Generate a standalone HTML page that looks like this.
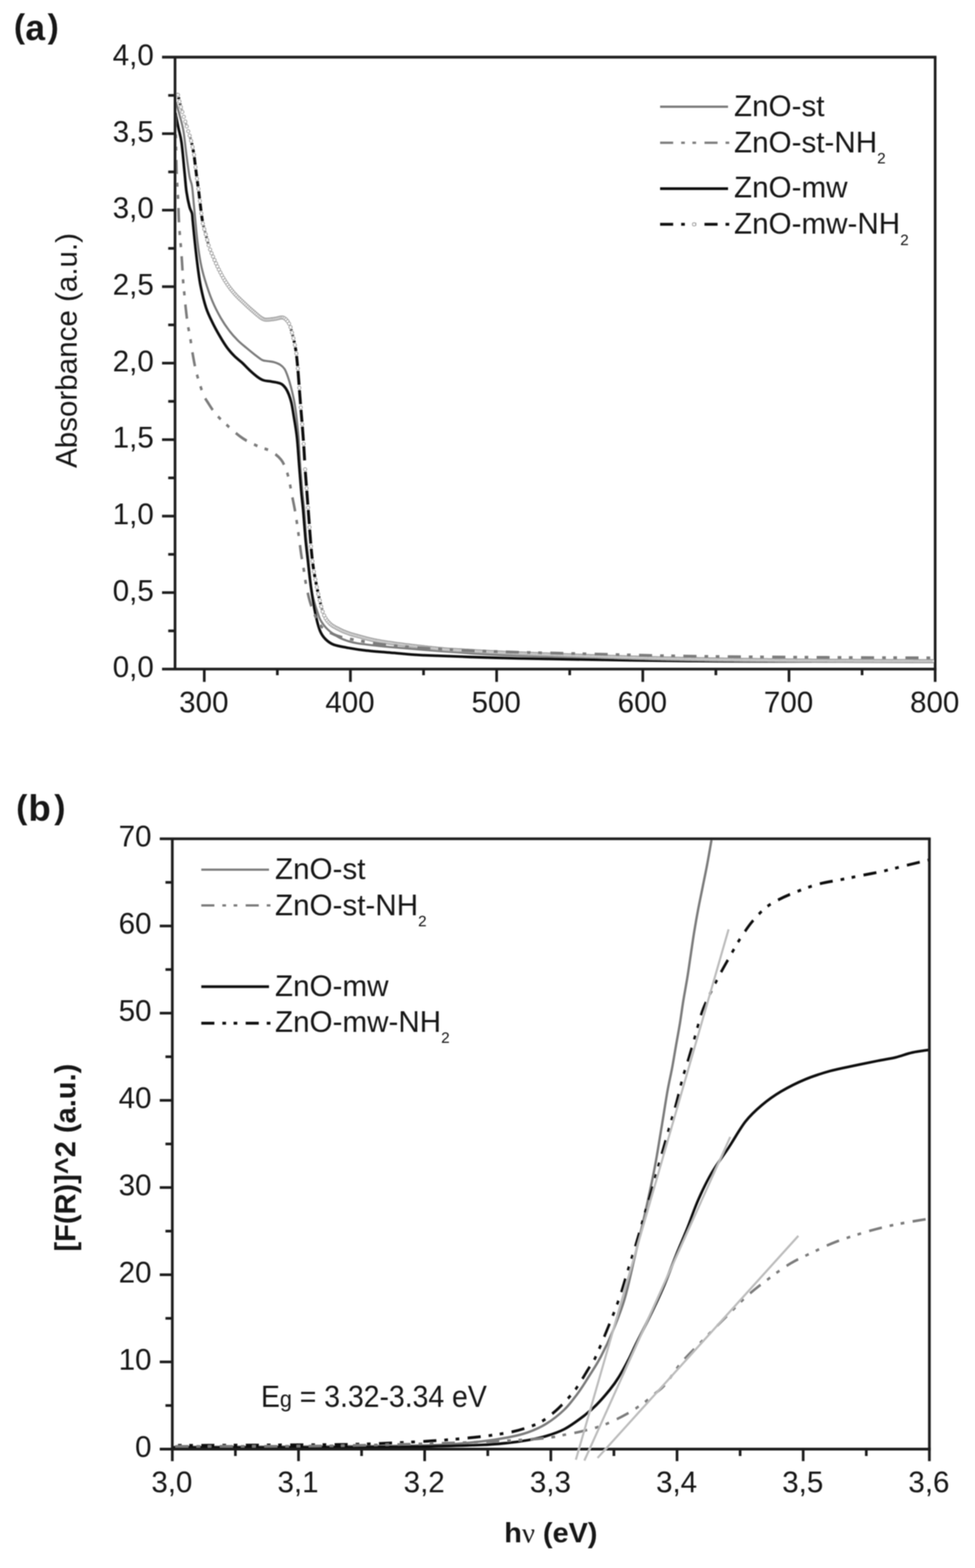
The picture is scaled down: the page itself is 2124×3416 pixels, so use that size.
<!DOCTYPE html>
<html lang="en"><head><meta charset="utf-8"><title>UV-Vis absorbance and Kubelka-Munk plots of ZnO samples</title>
<style>
html,body{margin:0;padding:0;background:#fff;}
body{width:2124px;height:3416px;overflow:hidden;}
svg{display:block;}
text{font-family:"Liberation Sans",sans-serif;fill:#141414;}
.tk{font-size:64.4px;}
.lg{font-size:64.5px;}
.sub{font-size:33.5px;}
.b{font-weight:bold;}
.ax{stroke:#1c1c1c;fill:none;}
</style></head><body>
<svg width="2124" height="3416" viewBox="0 0 2124 3416">
<rect width="2124" height="3416" fill="#fff"/>
<defs><filter id="bl" x="-2%" y="-2%" width="104%" height="104%"><feGaussianBlur stdDeviation="1.15"/></filter></defs>
<g filter="url(#bl)">
<g id="chart-a">
<text class="b" x="30.2" y="81.5" font-size="73" fill="#0a0a0a"><tspan>(</tspan><tspan font-size="77" dx="0.8" dy="5.5">a</tspan><tspan font-size="73" dx="5.6" dy="-5.5">)</tspan></text>
<clipPath id="ca"><rect x="381.3" y="124.5" width="1659.9" height="1333.2"/></clipPath>
<g clip-path="url(#ca)" fill="none" stroke-linecap="butt" stroke-linejoin="round">
<path d="M383.0 222.0C384.3 226.7 388.2 239.4 391.0 250.0C393.8 260.6 397.1 271.0 399.7 285.8C402.2 300.6 404.1 322.2 406.3 338.7C408.5 355.2 410.9 373.9 412.9 385.0C414.9 396.1 416.6 395.1 418.2 405.0C419.8 414.9 421.0 432.0 422.2 444.5C423.4 457.0 424.3 466.4 425.6 480.0C426.9 493.6 428.3 510.9 430.2 526.3C432.1 541.7 434.4 558.7 437.1 572.6C439.8 586.5 442.1 595.7 446.4 609.6C450.6 623.5 456.8 642.0 462.6 655.9C468.4 669.8 474.9 682.2 481.1 693.0C487.3 703.8 493.4 712.6 499.6 720.7C505.8 728.8 511.9 735.4 518.1 741.6C524.3 747.8 530.5 752.6 536.7 757.8C542.9 763.0 549.4 768.4 555.2 772.8C561.0 777.2 566.8 782.1 571.4 784.4C576.0 786.7 578.8 785.9 583.0 786.7C587.2 787.5 592.3 787.6 596.9 789.0C601.5 790.4 606.9 792.3 610.7 794.8C614.6 797.3 617.3 799.9 620.0 804.1C622.7 808.4 624.6 813.8 626.9 820.3C629.2 826.8 631.6 834.5 633.9 843.4C636.2 852.3 638.8 863.0 640.8 873.5C642.8 884.0 644.1 893.1 645.7 906.3C647.3 919.5 648.9 935.2 650.3 952.6C651.6 970.0 652.4 991.2 653.8 1010.5C655.1 1029.8 656.9 1051.0 658.4 1068.3C659.9 1085.6 661.6 1097.2 663.0 1114.6C664.4 1132.0 665.5 1155.1 667.0 1172.5C668.5 1189.9 669.9 1199.3 672.0 1218.8C674.1 1238.3 675.9 1269.4 679.5 1289.4C683.1 1309.4 689.4 1327.4 693.4 1339.0C697.4 1350.6 699.0 1352.8 703.3 1359.0C707.6 1365.2 713.2 1371.0 719.2 1376.0C725.2 1381.0 732.3 1385.5 739.0 1389.0C745.7 1392.5 752.8 1394.9 759.4 1397.0C766.0 1399.1 768.8 1399.9 778.7 1401.5C788.6 1403.1 805.4 1405.0 818.9 1406.5C832.4 1408.0 843.1 1409.0 860.0 1410.5C876.9 1412.0 896.7 1413.7 920.0 1415.5C943.3 1417.3 978.3 1419.9 1000.0 1421.5C1021.7 1423.1 1033.3 1424.0 1050.0 1425.0C1066.7 1426.0 1075.0 1426.5 1100.0 1427.5C1125.0 1428.5 1158.3 1429.7 1200.0 1431.0C1241.7 1432.3 1300.0 1434.2 1350.0 1435.5C1400.0 1436.8 1441.7 1438.1 1500.0 1439.0C1558.3 1439.9 1610.5 1440.5 1700.0 1441.0C1789.5 1441.5 1980.8 1441.8 2037.0 1442.0" stroke="#7c7c7c" stroke-width="4.6"/>
<path d="M382.0 246.0C383.2 251.7 386.7 269.0 389.0 280.0C391.3 291.0 393.5 295.6 395.7 312.0C397.9 328.4 400.5 360.7 402.3 378.4C404.1 396.1 404.5 405.9 406.3 418.0C408.1 430.1 410.9 443.3 412.9 451.0C414.9 458.7 417.0 459.6 418.2 464.4C419.4 469.2 418.8 469.7 419.8 480.0C420.8 490.3 422.7 510.1 424.4 526.3C426.1 542.5 428.1 561.0 430.2 577.2C432.3 593.4 434.0 608.1 437.1 623.5C440.2 638.9 444.4 656.7 448.7 669.8C452.9 682.9 457.6 691.8 462.6 702.2C467.6 712.6 473.4 723.0 478.8 732.3C484.2 741.6 489.6 750.5 495.0 757.8C500.4 765.1 505.8 770.9 511.2 776.3C516.6 781.7 522.0 785.2 527.4 790.2C532.8 795.2 538.2 801.4 543.6 806.4C549.0 811.4 554.8 816.6 559.8 820.3C564.8 824.0 569.1 826.7 573.7 828.4C578.3 830.1 583.0 829.9 587.6 830.7C592.2 831.5 597.3 832.0 601.5 833.0C605.7 834.0 609.5 834.4 613.0 836.5C616.5 838.6 619.6 841.9 622.3 845.7C625.0 849.6 627.2 854.2 629.3 859.6C631.4 865.0 633.2 870.3 635.0 878.1C636.8 885.9 637.9 893.9 639.9 906.3C641.9 918.7 645.0 935.2 646.9 952.6C648.8 970.0 650.0 991.2 651.5 1010.5C653.0 1029.8 654.6 1051.0 656.1 1068.3C657.6 1085.6 659.2 1097.2 660.7 1114.6C662.2 1132.0 663.8 1154.9 665.4 1172.5C667.0 1190.1 668.6 1202.2 670.6 1220.0C672.6 1237.8 674.7 1259.7 677.5 1279.5C680.3 1299.3 684.2 1323.1 687.5 1339.0C690.8 1354.9 693.8 1365.9 697.4 1374.8C701.0 1383.7 704.3 1387.6 709.3 1392.6C714.2 1397.5 718.8 1401.3 727.1 1404.5C735.4 1407.7 747.0 1409.3 758.9 1411.5C770.8 1413.7 782.1 1415.6 798.6 1417.4C815.1 1419.2 837.9 1420.8 858.1 1422.4C878.3 1424.1 883.0 1425.5 920.0 1427.3C957.0 1429.1 1026.7 1431.5 1080.0 1433.0C1133.3 1434.5 1170.0 1435.2 1240.0 1436.4C1310.0 1437.6 1423.3 1439.2 1500.0 1440.0C1576.7 1440.8 1610.5 1440.8 1700.0 1441.0C1789.5 1441.2 1980.8 1441.4 2037.0 1441.5" stroke="#111" stroke-width="5.8"/>
<path d="M388.8 211.7 L389.8 216.1M392.1 225.8 L392.8 228.5M395.5 238.1 L395.8 239.2M405.0 269.6 L405.3 270.6M414.5 300.3 L415.0 301.9M417.5 311.6 L418.4 315.4M420.4 325.2 L421.8 332.4M423.3 342.2 L425.3 359.1M426.5 369.1 L428.4 384.3M429.8 394.2 L431.5 406.5M432.9 416.5 L434.8 432.9M436.0 442.8 L438.0 459.7M439.3 469.7 L441.1 482.1M443.1 491.9 L443.7 494.3M446.3 504.0 L446.8 505.7M449.4 515.3 L450.1 517.9M452.7 527.6 L453.2 529.7M634.1 717.6 L634.8 720.0M637.3 729.7 L638.0 732.2M640.3 741.9 L641.4 746.7M643.3 756.5 L644.8 765.3M646.1 775.2 L648.3 797.7M649.2 807.7 L651.5 838.6M652.3 849.7 L654.7 880.6M655.6 892.4 L657.9 919.3M658.7 929.3 L661.0 960.2M661.8 972.0 L663.6 1003.0M665.1 1027.5 L667.5 1058.4M668.3 1068.7 L670.6 1099.6M671.5 1110.8 L673.8 1141.7M674.6 1153.5 L677.0 1184.4M677.9 1195.2 L680.1 1217.5M681.3 1227.5 L683.1 1240.2M684.7 1250.1 L686.1 1257.5M688.0 1267.3 L689.2 1274.0M691.2 1283.8 L692.4 1289.3M694.5 1299.1 L695.4 1303.0M697.7 1312.8 L698.6 1316.3M701.1 1326.0 L701.6 1327.7" stroke="#111" stroke-width="6.4"/>
<g stroke="#a2a2a2" stroke-width="2.0" fill="#fff">
<circle cx="384.5" cy="206.1" r="3.5"/>
<circle cx="387.7" cy="206.8" r="3.5"/>
<circle cx="390.9" cy="221.0" r="3.5"/>
<circle cx="394.0" cy="233.3" r="3.5"/>
<circle cx="397.2" cy="244.0" r="3.5"/>
<circle cx="400.4" cy="254.4" r="3.5"/>
<circle cx="403.6" cy="264.8" r="3.5"/>
<circle cx="406.8" cy="275.4" r="3.5"/>
<circle cx="410.0" cy="285.9" r="3.5"/>
<circle cx="413.1" cy="295.5" r="3.5"/>
<circle cx="416.3" cy="306.7" r="3.5"/>
<circle cx="419.5" cy="320.2" r="3.5"/>
<circle cx="422.7" cy="337.3" r="3.5"/>
<circle cx="425.9" cy="364.1" r="3.5"/>
<circle cx="429.1" cy="389.3" r="3.5"/>
<circle cx="432.3" cy="411.5" r="3.5"/>
<circle cx="435.4" cy="437.8" r="3.5"/>
<circle cx="438.6" cy="464.7" r="3.5"/>
<circle cx="441.8" cy="487.0" r="3.5"/>
<circle cx="445.0" cy="499.2" r="3.5"/>
<circle cx="448.2" cy="510.5" r="3.5"/>
<circle cx="451.4" cy="522.8" r="3.5"/>
<circle cx="454.5" cy="534.6" r="3.5"/>
<circle cx="457.7" cy="543.8" r="3.5"/>
<circle cx="460.9" cy="551.7" r="3.5"/>
<circle cx="464.1" cy="559.1" r="3.5"/>
<circle cx="467.3" cy="566.5" r="3.5"/>
<circle cx="470.5" cy="573.7" r="3.5"/>
<circle cx="473.6" cy="580.6" r="3.5"/>
<circle cx="476.8" cy="587.2" r="3.5"/>
<circle cx="480.0" cy="593.5" r="3.5"/>
<circle cx="483.2" cy="599.6" r="3.5"/>
<circle cx="486.4" cy="605.4" r="3.5"/>
<circle cx="489.6" cy="610.7" r="3.5"/>
<circle cx="492.8" cy="615.6" r="3.5"/>
<circle cx="495.9" cy="620.4" r="3.5"/>
<circle cx="499.1" cy="624.9" r="3.5"/>
<circle cx="502.3" cy="629.2" r="3.5"/>
<circle cx="505.5" cy="633.3" r="3.5"/>
<circle cx="508.7" cy="637.1" r="3.5"/>
<circle cx="511.9" cy="640.7" r="3.5"/>
<circle cx="515.0" cy="644.1" r="3.5"/>
<circle cx="518.2" cy="647.4" r="3.5"/>
<circle cx="521.4" cy="650.5" r="3.5"/>
<circle cx="524.6" cy="653.6" r="3.5"/>
<circle cx="527.8" cy="656.6" r="3.5"/>
<circle cx="531.0" cy="659.6" r="3.5"/>
<circle cx="534.2" cy="662.6" r="3.5"/>
<circle cx="537.3" cy="665.6" r="3.5"/>
<circle cx="540.5" cy="668.5" r="3.5"/>
<circle cx="543.7" cy="671.4" r="3.5"/>
<circle cx="546.9" cy="674.2" r="3.5"/>
<circle cx="550.1" cy="677.0" r="3.5"/>
<circle cx="553.3" cy="679.7" r="3.5"/>
<circle cx="556.4" cy="682.5" r="3.5"/>
<circle cx="559.6" cy="685.2" r="3.5"/>
<circle cx="562.8" cy="687.9" r="3.5"/>
<circle cx="566.0" cy="690.5" r="3.5"/>
<circle cx="569.2" cy="692.8" r="3.5"/>
<circle cx="572.4" cy="694.6" r="3.5"/>
<circle cx="575.5" cy="695.9" r="3.5"/>
<circle cx="578.7" cy="696.4" r="3.5"/>
<circle cx="581.9" cy="696.4" r="3.5"/>
<circle cx="585.1" cy="696.3" r="3.5"/>
<circle cx="588.3" cy="696.0" r="3.5"/>
<circle cx="591.5" cy="695.6" r="3.5"/>
<circle cx="594.7" cy="695.2" r="3.5"/>
<circle cx="597.8" cy="694.7" r="3.5"/>
<circle cx="601.0" cy="694.2" r="3.5"/>
<circle cx="604.2" cy="693.6" r="3.5"/>
<circle cx="607.4" cy="692.8" r="3.5"/>
<circle cx="610.6" cy="692.1" r="3.5"/>
<circle cx="613.8" cy="691.7" r="3.5"/>
<circle cx="616.9" cy="692.1" r="3.5"/>
<circle cx="620.1" cy="693.6" r="3.5"/>
<circle cx="623.3" cy="696.3" r="3.5"/>
<circle cx="626.5" cy="699.9" r="3.5"/>
<circle cx="629.7" cy="705.1" r="3.5"/>
<circle cx="632.9" cy="712.7" r="3.5"/>
<circle cx="636.1" cy="724.8" r="3.5"/>
<circle cx="639.2" cy="737.0" r="3.5"/>
<circle cx="642.4" cy="751.6" r="3.5"/>
<circle cx="645.6" cy="770.2" r="3.5"/>
<circle cx="648.8" cy="802.7" r="3.5"/>
<circle cx="652.0" cy="844.7" r="3.5"/>
<circle cx="655.2" cy="887.4" r="3.5"/>
<circle cx="658.3" cy="924.3" r="3.5"/>
<circle cx="661.5" cy="967.1" r="3.5"/>
<circle cx="664.7" cy="1022.5" r="3.5"/>
<circle cx="667.9" cy="1063.7" r="3.5"/>
<circle cx="671.1" cy="1105.8" r="3.5"/>
<circle cx="674.3" cy="1148.5" r="3.5"/>
<circle cx="677.5" cy="1190.3" r="3.5"/>
<circle cx="680.6" cy="1222.5" r="3.5"/>
<circle cx="683.8" cy="1245.2" r="3.5"/>
<circle cx="687.0" cy="1262.4" r="3.5"/>
<circle cx="690.2" cy="1278.9" r="3.5"/>
<circle cx="693.4" cy="1294.2" r="3.5"/>
<circle cx="696.6" cy="1307.9" r="3.5"/>
<circle cx="699.7" cy="1321.2" r="3.5"/>
<circle cx="702.9" cy="1332.5" r="3.5"/>
<circle cx="706.1" cy="1340.8" r="3.5"/>
<circle cx="709.3" cy="1347.0" r="3.5"/>
<circle cx="712.5" cy="1351.7" r="3.5"/>
<circle cx="715.7" cy="1355.4" r="3.5"/>
<circle cx="718.8" cy="1358.7" r="3.5"/>
<circle cx="722.0" cy="1361.4" r="3.5"/>
<circle cx="725.2" cy="1363.7" r="3.5"/>
<circle cx="728.4" cy="1365.6" r="3.5"/>
<circle cx="731.6" cy="1367.4" r="3.5"/>
<circle cx="734.8" cy="1369.0" r="3.5"/>
<circle cx="738.0" cy="1370.6" r="3.5"/>
<circle cx="741.1" cy="1372.2" r="3.5"/>
<circle cx="744.3" cy="1373.8" r="3.5"/>
<circle cx="747.5" cy="1375.2" r="3.5"/>
<circle cx="750.7" cy="1376.5" r="3.5"/>
<circle cx="753.9" cy="1377.8" r="3.5"/>
<circle cx="757.1" cy="1378.9" r="3.5"/>
<circle cx="760.2" cy="1380.1" r="3.5"/>
<circle cx="763.4" cy="1381.2" r="3.5"/>
<circle cx="766.6" cy="1382.2" r="3.5"/>
<circle cx="769.8" cy="1383.1" r="3.5"/>
<circle cx="773.0" cy="1384.0" r="3.5"/>
<circle cx="776.2" cy="1384.8" r="3.5"/>
<circle cx="779.4" cy="1385.7" r="3.5"/>
<circle cx="782.5" cy="1386.5" r="3.5"/>
<circle cx="785.7" cy="1387.4" r="3.5"/>
<circle cx="788.9" cy="1388.3" r="3.5"/>
<circle cx="792.1" cy="1389.2" r="3.5"/>
<circle cx="795.3" cy="1390.1" r="3.5"/>
<circle cx="798.5" cy="1390.9" r="3.5"/>
<circle cx="801.6" cy="1391.7" r="3.5"/>
<circle cx="804.8" cy="1392.5" r="3.5"/>
<circle cx="808.0" cy="1393.3" r="3.5"/>
<circle cx="811.2" cy="1394.0" r="3.5"/>
<circle cx="814.4" cy="1394.7" r="3.5"/>
<circle cx="817.6" cy="1395.3" r="3.5"/>
<circle cx="820.8" cy="1396.0" r="3.5"/>
<circle cx="823.9" cy="1396.5" r="3.5"/>
<circle cx="827.1" cy="1397.1" r="3.5"/>
<circle cx="830.3" cy="1397.7" r="3.5"/>
<circle cx="833.5" cy="1398.2" r="3.5"/>
<circle cx="836.7" cy="1398.7" r="3.5"/>
<circle cx="839.9" cy="1399.2" r="3.5"/>
<circle cx="843.0" cy="1399.7" r="3.5"/>
<circle cx="846.2" cy="1400.2" r="3.5"/>
<circle cx="849.4" cy="1400.6" r="3.5"/>
<circle cx="852.6" cy="1401.1" r="3.5"/>
<circle cx="855.8" cy="1401.6" r="3.5"/>
<circle cx="859.0" cy="1402.0" r="3.5"/>
<circle cx="862.1" cy="1402.4" r="3.5"/>
<circle cx="865.3" cy="1402.9" r="3.5"/>
<circle cx="868.5" cy="1403.3" r="3.5"/>
<circle cx="871.7" cy="1403.7" r="3.5"/>
<circle cx="874.9" cy="1404.1" r="3.5"/>
<circle cx="878.1" cy="1404.6" r="3.5"/>
<circle cx="881.3" cy="1405.0" r="3.5"/>
<circle cx="884.4" cy="1405.4" r="3.5"/>
<circle cx="887.6" cy="1405.8" r="3.5"/>
<circle cx="890.8" cy="1406.1" r="3.5"/>
<circle cx="894.0" cy="1406.5" r="3.5"/>
<circle cx="897.2" cy="1406.9" r="3.5"/>
<circle cx="900.4" cy="1407.3" r="3.5"/>
<circle cx="903.5" cy="1407.7" r="3.5"/>
<circle cx="906.7" cy="1408.0" r="3.5"/>
<circle cx="909.9" cy="1408.4" r="3.5"/>
<circle cx="913.1" cy="1408.7" r="3.5"/>
<circle cx="916.3" cy="1409.1" r="3.5"/>
<circle cx="919.5" cy="1409.5" r="3.5"/>
<circle cx="922.7" cy="1409.8" r="3.5"/>
<circle cx="925.8" cy="1410.2" r="3.5"/>
<circle cx="929.0" cy="1410.5" r="3.5"/>
<circle cx="932.2" cy="1410.9" r="3.5"/>
<circle cx="935.4" cy="1411.2" r="3.5"/>
<circle cx="938.6" cy="1411.5" r="3.5"/>
<circle cx="941.8" cy="1411.9" r="3.5"/>
<circle cx="944.9" cy="1412.2" r="3.5"/>
<circle cx="948.1" cy="1412.5" r="3.5"/>
<circle cx="951.3" cy="1412.9" r="3.5"/>
<circle cx="954.5" cy="1413.2" r="3.5"/>
<circle cx="957.7" cy="1413.5" r="3.5"/>
<circle cx="960.9" cy="1413.8" r="3.5"/>
<circle cx="964.0" cy="1414.1" r="3.5"/>
<circle cx="967.2" cy="1414.4" r="3.5"/>
<circle cx="970.4" cy="1414.7" r="3.5"/>
<circle cx="973.6" cy="1414.9" r="3.5"/>
<circle cx="976.8" cy="1415.2" r="3.5"/>
<circle cx="980.0" cy="1415.4" r="3.5"/>
<circle cx="983.2" cy="1415.5" r="3.5"/>
<circle cx="986.3" cy="1415.7" r="3.5"/>
<circle cx="989.5" cy="1415.9" r="3.5"/>
<circle cx="992.7" cy="1416.1" r="3.5"/>
<circle cx="995.9" cy="1416.3" r="3.5"/>
<circle cx="999.1" cy="1416.4" r="3.5"/>
<circle cx="1002.3" cy="1416.6" r="3.5"/>
<circle cx="1005.4" cy="1416.8" r="3.5"/>
<circle cx="1008.6" cy="1417.0" r="3.5"/>
<circle cx="1011.8" cy="1417.2" r="3.5"/>
<circle cx="1015.0" cy="1417.4" r="3.5"/>
<circle cx="1018.2" cy="1417.6" r="3.5"/>
<circle cx="1021.4" cy="1417.8" r="3.5"/>
<circle cx="1024.6" cy="1417.9" r="3.5"/>
<circle cx="1027.7" cy="1418.1" r="3.5"/>
<circle cx="1030.9" cy="1418.3" r="3.5"/>
<circle cx="1034.1" cy="1418.5" r="3.5"/>
<circle cx="1037.3" cy="1418.7" r="3.5"/>
<circle cx="1040.5" cy="1418.9" r="3.5"/>
<circle cx="1043.7" cy="1419.0" r="3.5"/>
<circle cx="1046.8" cy="1419.2" r="3.5"/>
<circle cx="1050.0" cy="1419.4" r="3.5"/>
<circle cx="1053.2" cy="1419.6" r="3.5"/>
<circle cx="1056.4" cy="1419.7" r="3.5"/>
<circle cx="1059.6" cy="1419.9" r="3.5"/>
<circle cx="1062.8" cy="1420.1" r="3.5"/>
<circle cx="1066.0" cy="1420.3" r="3.5"/>
<circle cx="1069.1" cy="1420.4" r="3.5"/>
<circle cx="1072.3" cy="1420.6" r="3.5"/>
<circle cx="1075.5" cy="1420.8" r="3.5"/>
<circle cx="1078.7" cy="1420.9" r="3.5"/>
<circle cx="1081.9" cy="1421.1" r="3.5"/>
<circle cx="1085.1" cy="1421.3" r="3.5"/>
<circle cx="1088.2" cy="1421.4" r="3.5"/>
<circle cx="1091.4" cy="1421.6" r="3.5"/>
<circle cx="1094.6" cy="1421.7" r="3.5"/>
<circle cx="1097.8" cy="1421.9" r="3.5"/>
<circle cx="1101.0" cy="1422.0" r="3.5"/>
<circle cx="1104.2" cy="1422.2" r="3.5"/>
<circle cx="1107.3" cy="1422.3" r="3.5"/>
<circle cx="1110.5" cy="1422.5" r="3.5"/>
<circle cx="1113.7" cy="1422.6" r="3.5"/>
<circle cx="1116.9" cy="1422.8" r="3.5"/>
<circle cx="1120.1" cy="1422.9" r="3.5"/>
<circle cx="1123.3" cy="1423.0" r="3.5"/>
<circle cx="1126.5" cy="1423.2" r="3.5"/>
<circle cx="1129.6" cy="1423.3" r="3.5"/>
<circle cx="1132.8" cy="1423.4" r="3.5"/>
<circle cx="1136.0" cy="1423.6" r="3.5"/>
<circle cx="1139.2" cy="1423.7" r="3.5"/>
<circle cx="1142.4" cy="1423.8" r="3.5"/>
<circle cx="1145.6" cy="1423.9" r="3.5"/>
<circle cx="1148.7" cy="1424.1" r="3.5"/>
<circle cx="1151.9" cy="1424.2" r="3.5"/>
<circle cx="1155.1" cy="1424.3" r="3.5"/>
<circle cx="1158.3" cy="1424.4" r="3.5"/>
<circle cx="1161.5" cy="1424.6" r="3.5"/>
<circle cx="1164.7" cy="1424.7" r="3.5"/>
<circle cx="1167.9" cy="1424.8" r="3.5"/>
<circle cx="1171.0" cy="1424.9" r="3.5"/>
<circle cx="1174.2" cy="1425.0" r="3.5"/>
<circle cx="1177.4" cy="1425.2" r="3.5"/>
<circle cx="1180.6" cy="1425.3" r="3.5"/>
<circle cx="1183.8" cy="1425.4" r="3.5"/>
<circle cx="1187.0" cy="1425.5" r="3.5"/>
<circle cx="1190.1" cy="1425.6" r="3.5"/>
<circle cx="1193.3" cy="1425.7" r="3.5"/>
<circle cx="1196.5" cy="1425.9" r="3.5"/>
<circle cx="1199.7" cy="1426.0" r="3.5"/>
<circle cx="1202.9" cy="1426.1" r="3.5"/>
<circle cx="1206.1" cy="1426.2" r="3.5"/>
<circle cx="1209.2" cy="1426.4" r="3.5"/>
<circle cx="1212.4" cy="1426.5" r="3.5"/>
<circle cx="1215.6" cy="1426.6" r="3.5"/>
<circle cx="1218.8" cy="1426.7" r="3.5"/>
<circle cx="1222.0" cy="1426.8" r="3.5"/>
<circle cx="1225.2" cy="1427.0" r="3.5"/>
<circle cx="1228.4" cy="1427.1" r="3.5"/>
<circle cx="1231.5" cy="1427.2" r="3.5"/>
<circle cx="1234.7" cy="1427.3" r="3.5"/>
<circle cx="1237.9" cy="1427.5" r="3.5"/>
<circle cx="1241.1" cy="1427.6" r="3.5"/>
<circle cx="1244.3" cy="1427.7" r="3.5"/>
<circle cx="1247.5" cy="1427.8" r="3.5"/>
<circle cx="1250.6" cy="1427.9" r="3.5"/>
<circle cx="1253.8" cy="1428.1" r="3.5"/>
<circle cx="1257.0" cy="1428.2" r="3.5"/>
<circle cx="1260.2" cy="1428.3" r="3.5"/>
<circle cx="1263.4" cy="1428.4" r="3.5"/>
<circle cx="1266.6" cy="1428.5" r="3.5"/>
<circle cx="1269.8" cy="1428.7" r="3.5"/>
<circle cx="1272.9" cy="1428.8" r="3.5"/>
<circle cx="1276.1" cy="1428.9" r="3.5"/>
<circle cx="1279.3" cy="1429.0" r="3.5"/>
<circle cx="1282.5" cy="1429.1" r="3.5"/>
<circle cx="1285.7" cy="1429.3" r="3.5"/>
<circle cx="1288.9" cy="1429.4" r="3.5"/>
<circle cx="1292.0" cy="1429.5" r="3.5"/>
<circle cx="1295.2" cy="1429.6" r="3.5"/>
<circle cx="1298.4" cy="1429.7" r="3.5"/>
<circle cx="1301.6" cy="1429.8" r="3.5"/>
<circle cx="1304.8" cy="1430.0" r="3.5"/>
<circle cx="1308.0" cy="1430.1" r="3.5"/>
<circle cx="1311.2" cy="1430.2" r="3.5"/>
<circle cx="1314.3" cy="1430.3" r="3.5"/>
<circle cx="1317.5" cy="1430.4" r="3.5"/>
<circle cx="1320.7" cy="1430.5" r="3.5"/>
<circle cx="1323.9" cy="1430.6" r="3.5"/>
<circle cx="1327.1" cy="1430.7" r="3.5"/>
<circle cx="1330.3" cy="1430.9" r="3.5"/>
<circle cx="1333.4" cy="1431.0" r="3.5"/>
<circle cx="1336.6" cy="1431.1" r="3.5"/>
<circle cx="1339.8" cy="1431.2" r="3.5"/>
<circle cx="1343.0" cy="1431.3" r="3.5"/>
<circle cx="1346.2" cy="1431.4" r="3.5"/>
<circle cx="1349.4" cy="1431.5" r="3.5"/>
<circle cx="1352.5" cy="1431.6" r="3.5"/>
<circle cx="1355.7" cy="1431.7" r="3.5"/>
<circle cx="1358.9" cy="1431.8" r="3.5"/>
<circle cx="1362.1" cy="1431.9" r="3.5"/>
<circle cx="1365.3" cy="1432.0" r="3.5"/>
<circle cx="1368.5" cy="1432.1" r="3.5"/>
<circle cx="1371.7" cy="1432.2" r="3.5"/>
<circle cx="1374.8" cy="1432.3" r="3.5"/>
<circle cx="1378.0" cy="1432.4" r="3.5"/>
<circle cx="1381.2" cy="1432.5" r="3.5"/>
<circle cx="1384.4" cy="1432.6" r="3.5"/>
<circle cx="1387.6" cy="1432.7" r="3.5"/>
<circle cx="1390.8" cy="1432.8" r="3.5"/>
<circle cx="1393.9" cy="1432.9" r="3.5"/>
<circle cx="1397.1" cy="1433.0" r="3.5"/>
<circle cx="1400.3" cy="1433.0" r="3.5"/>
<circle cx="1403.5" cy="1433.1" r="3.5"/>
<circle cx="1406.7" cy="1433.2" r="3.5"/>
<circle cx="1409.9" cy="1433.3" r="3.5"/>
<circle cx="1413.1" cy="1433.4" r="3.5"/>
<circle cx="1416.2" cy="1433.5" r="3.5"/>
<circle cx="1419.4" cy="1433.6" r="3.5"/>
<circle cx="1422.6" cy="1433.7" r="3.5"/>
<circle cx="1425.8" cy="1433.8" r="3.5"/>
<circle cx="1429.0" cy="1433.8" r="3.5"/>
<circle cx="1432.2" cy="1433.9" r="3.5"/>
<circle cx="1435.3" cy="1434.0" r="3.5"/>
<circle cx="1438.5" cy="1434.1" r="3.5"/>
<circle cx="1441.7" cy="1434.2" r="3.5"/>
<circle cx="1444.9" cy="1434.3" r="3.5"/>
<circle cx="1448.1" cy="1434.3" r="3.5"/>
<circle cx="1451.3" cy="1434.4" r="3.5"/>
<circle cx="1454.5" cy="1434.5" r="3.5"/>
<circle cx="1457.6" cy="1434.6" r="3.5"/>
<circle cx="1460.8" cy="1434.6" r="3.5"/>
<circle cx="1464.0" cy="1434.7" r="3.5"/>
<circle cx="1467.2" cy="1434.8" r="3.5"/>
<circle cx="1470.4" cy="1434.9" r="3.5"/>
<circle cx="1473.6" cy="1434.9" r="3.5"/>
<circle cx="1476.7" cy="1435.0" r="3.5"/>
<circle cx="1479.9" cy="1435.1" r="3.5"/>
<circle cx="1483.1" cy="1435.2" r="3.5"/>
<circle cx="1486.3" cy="1435.2" r="3.5"/>
<circle cx="1489.5" cy="1435.3" r="3.5"/>
<circle cx="1492.7" cy="1435.4" r="3.5"/>
<circle cx="1495.8" cy="1435.4" r="3.5"/>
<circle cx="1499.0" cy="1435.5" r="3.5"/>
<circle cx="1502.2" cy="1435.5" r="3.5"/>
<circle cx="1505.4" cy="1435.6" r="3.5"/>
<circle cx="1508.6" cy="1435.7" r="3.5"/>
<circle cx="1511.8" cy="1435.7" r="3.5"/>
<circle cx="1515.0" cy="1435.8" r="3.5"/>
<circle cx="1518.1" cy="1435.8" r="3.5"/>
<circle cx="1521.3" cy="1435.9" r="3.5"/>
<circle cx="1524.5" cy="1436.0" r="3.5"/>
<circle cx="1527.7" cy="1436.0" r="3.5"/>
<circle cx="1530.9" cy="1436.1" r="3.5"/>
<circle cx="1534.1" cy="1436.1" r="3.5"/>
<circle cx="1537.2" cy="1436.2" r="3.5"/>
<circle cx="1540.4" cy="1436.2" r="3.5"/>
<circle cx="1543.6" cy="1436.3" r="3.5"/>
<circle cx="1546.8" cy="1436.4" r="3.5"/>
<circle cx="1550.0" cy="1436.4" r="3.5"/>
<circle cx="1553.2" cy="1436.5" r="3.5"/>
<circle cx="1556.4" cy="1436.5" r="3.5"/>
<circle cx="1559.5" cy="1436.6" r="3.5"/>
<circle cx="1562.7" cy="1436.6" r="3.5"/>
<circle cx="1565.9" cy="1436.7" r="3.5"/>
<circle cx="1569.1" cy="1436.7" r="3.5"/>
<circle cx="1572.3" cy="1436.8" r="3.5"/>
<circle cx="1575.5" cy="1436.8" r="3.5"/>
<circle cx="1578.6" cy="1436.9" r="3.5"/>
<circle cx="1581.8" cy="1436.9" r="3.5"/>
<circle cx="1585.0" cy="1437.0" r="3.5"/>
<circle cx="1588.2" cy="1437.0" r="3.5"/>
<circle cx="1591.4" cy="1437.1" r="3.5"/>
<circle cx="1594.6" cy="1437.1" r="3.5"/>
<circle cx="1597.7" cy="1437.1" r="3.5"/>
<circle cx="1600.9" cy="1437.2" r="3.5"/>
<circle cx="1604.1" cy="1437.2" r="3.5"/>
<circle cx="1607.3" cy="1437.3" r="3.5"/>
<circle cx="1610.5" cy="1437.3" r="3.5"/>
<circle cx="1613.7" cy="1437.4" r="3.5"/>
<circle cx="1616.9" cy="1437.4" r="3.5"/>
<circle cx="1620.0" cy="1437.5" r="3.5"/>
<circle cx="1623.2" cy="1437.5" r="3.5"/>
<circle cx="1626.4" cy="1437.6" r="3.5"/>
<circle cx="1629.6" cy="1437.6" r="3.5"/>
<circle cx="1632.8" cy="1437.6" r="3.5"/>
<circle cx="1636.0" cy="1437.7" r="3.5"/>
<circle cx="1639.1" cy="1437.7" r="3.5"/>
<circle cx="1642.3" cy="1437.8" r="3.5"/>
<circle cx="1645.5" cy="1437.8" r="3.5"/>
<circle cx="1648.7" cy="1437.9" r="3.5"/>
<circle cx="1651.9" cy="1437.9" r="3.5"/>
<circle cx="1655.1" cy="1437.9" r="3.5"/>
<circle cx="1658.3" cy="1438.0" r="3.5"/>
<circle cx="1661.4" cy="1438.0" r="3.5"/>
<circle cx="1664.6" cy="1438.1" r="3.5"/>
<circle cx="1667.8" cy="1438.1" r="3.5"/>
<circle cx="1671.0" cy="1438.1" r="3.5"/>
<circle cx="1674.2" cy="1438.2" r="3.5"/>
<circle cx="1677.4" cy="1438.2" r="3.5"/>
<circle cx="1680.5" cy="1438.3" r="3.5"/>
<circle cx="1683.7" cy="1438.3" r="3.5"/>
<circle cx="1686.9" cy="1438.3" r="3.5"/>
<circle cx="1690.1" cy="1438.4" r="3.5"/>
<circle cx="1693.3" cy="1438.4" r="3.5"/>
<circle cx="1696.5" cy="1438.5" r="3.5"/>
<circle cx="1699.7" cy="1438.5" r="3.5"/>
<circle cx="1702.8" cy="1438.5" r="3.5"/>
<circle cx="1706.0" cy="1438.6" r="3.5"/>
<circle cx="1709.2" cy="1438.6" r="3.5"/>
<circle cx="1712.4" cy="1438.6" r="3.5"/>
<circle cx="1715.6" cy="1438.7" r="3.5"/>
<circle cx="1718.8" cy="1438.7" r="3.5"/>
<circle cx="1721.9" cy="1438.7" r="3.5"/>
<circle cx="1725.1" cy="1438.8" r="3.5"/>
<circle cx="1728.3" cy="1438.8" r="3.5"/>
<circle cx="1731.5" cy="1438.8" r="3.5"/>
<circle cx="1734.7" cy="1438.9" r="3.5"/>
<circle cx="1737.9" cy="1438.9" r="3.5"/>
<circle cx="1741.0" cy="1438.9" r="3.5"/>
<circle cx="1744.2" cy="1439.0" r="3.5"/>
<circle cx="1747.4" cy="1439.0" r="3.5"/>
<circle cx="1750.6" cy="1439.0" r="3.5"/>
<circle cx="1753.8" cy="1439.0" r="3.5"/>
<circle cx="1757.0" cy="1439.1" r="3.5"/>
<circle cx="1760.2" cy="1439.1" r="3.5"/>
<circle cx="1763.3" cy="1439.1" r="3.5"/>
<circle cx="1766.5" cy="1439.1" r="3.5"/>
<circle cx="1769.7" cy="1439.2" r="3.5"/>
<circle cx="1772.9" cy="1439.2" r="3.5"/>
<circle cx="1776.1" cy="1439.2" r="3.5"/>
<circle cx="1779.3" cy="1439.2" r="3.5"/>
<circle cx="1782.4" cy="1439.2" r="3.5"/>
<circle cx="1785.6" cy="1439.3" r="3.5"/>
<circle cx="1788.8" cy="1439.3" r="3.5"/>
<circle cx="1792.0" cy="1439.3" r="3.5"/>
<circle cx="1795.2" cy="1439.3" r="3.5"/>
<circle cx="1798.4" cy="1439.3" r="3.5"/>
<circle cx="1801.6" cy="1439.3" r="3.5"/>
<circle cx="1804.7" cy="1439.4" r="3.5"/>
<circle cx="1807.9" cy="1439.4" r="3.5"/>
<circle cx="1811.1" cy="1439.4" r="3.5"/>
<circle cx="1814.3" cy="1439.4" r="3.5"/>
<circle cx="1817.5" cy="1439.4" r="3.5"/>
<circle cx="1820.7" cy="1439.4" r="3.5"/>
<circle cx="1823.8" cy="1439.5" r="3.5"/>
<circle cx="1827.0" cy="1439.5" r="3.5"/>
<circle cx="1830.2" cy="1439.5" r="3.5"/>
<circle cx="1833.4" cy="1439.5" r="3.5"/>
<circle cx="1836.6" cy="1439.5" r="3.5"/>
<circle cx="1839.8" cy="1439.5" r="3.5"/>
<circle cx="1843.0" cy="1439.6" r="3.5"/>
<circle cx="1846.1" cy="1439.6" r="3.5"/>
<circle cx="1849.3" cy="1439.6" r="3.5"/>
<circle cx="1852.5" cy="1439.6" r="3.5"/>
<circle cx="1855.7" cy="1439.6" r="3.5"/>
<circle cx="1858.9" cy="1439.6" r="3.5"/>
<circle cx="1862.1" cy="1439.7" r="3.5"/>
<circle cx="1865.2" cy="1439.7" r="3.5"/>
<circle cx="1868.4" cy="1439.7" r="3.5"/>
<circle cx="1871.6" cy="1439.7" r="3.5"/>
<circle cx="1874.8" cy="1439.7" r="3.5"/>
<circle cx="1878.0" cy="1439.7" r="3.5"/>
<circle cx="1881.2" cy="1439.7" r="3.5"/>
<circle cx="1884.3" cy="1439.8" r="3.5"/>
<circle cx="1887.5" cy="1439.8" r="3.5"/>
<circle cx="1890.7" cy="1439.8" r="3.5"/>
<circle cx="1893.9" cy="1439.8" r="3.5"/>
<circle cx="1897.1" cy="1439.8" r="3.5"/>
<circle cx="1900.3" cy="1439.8" r="3.5"/>
<circle cx="1903.5" cy="1439.8" r="3.5"/>
<circle cx="1906.6" cy="1439.9" r="3.5"/>
<circle cx="1909.8" cy="1439.9" r="3.5"/>
<circle cx="1913.0" cy="1439.9" r="3.5"/>
<circle cx="1916.2" cy="1439.9" r="3.5"/>
<circle cx="1919.4" cy="1439.9" r="3.5"/>
<circle cx="1922.6" cy="1439.9" r="3.5"/>
<circle cx="1925.7" cy="1439.9" r="3.5"/>
<circle cx="1928.9" cy="1439.9" r="3.5"/>
<circle cx="1932.1" cy="1439.9" r="3.5"/>
<circle cx="1935.3" cy="1440.0" r="3.5"/>
<circle cx="1938.5" cy="1440.0" r="3.5"/>
<circle cx="1941.7" cy="1440.0" r="3.5"/>
<circle cx="1944.9" cy="1440.0" r="3.5"/>
<circle cx="1948.0" cy="1440.0" r="3.5"/>
<circle cx="1951.2" cy="1440.0" r="3.5"/>
<circle cx="1954.4" cy="1440.0" r="3.5"/>
<circle cx="1957.6" cy="1440.0" r="3.5"/>
<circle cx="1960.8" cy="1440.0" r="3.5"/>
<circle cx="1964.0" cy="1440.1" r="3.5"/>
<circle cx="1967.1" cy="1440.1" r="3.5"/>
<circle cx="1970.3" cy="1440.1" r="3.5"/>
<circle cx="1973.5" cy="1440.1" r="3.5"/>
<circle cx="1976.7" cy="1440.1" r="3.5"/>
<circle cx="1979.9" cy="1440.1" r="3.5"/>
<circle cx="1983.1" cy="1440.1" r="3.5"/>
<circle cx="1986.2" cy="1440.1" r="3.5"/>
<circle cx="1989.4" cy="1440.1" r="3.5"/>
<circle cx="1992.6" cy="1440.2" r="3.5"/>
<circle cx="1995.8" cy="1440.2" r="3.5"/>
<circle cx="1999.0" cy="1440.2" r="3.5"/>
<circle cx="2002.2" cy="1440.2" r="3.5"/>
<circle cx="2005.4" cy="1440.2" r="3.5"/>
<circle cx="2008.5" cy="1440.2" r="3.5"/>
<circle cx="2011.7" cy="1440.2" r="3.5"/>
<circle cx="2014.9" cy="1440.2" r="3.5"/>
<circle cx="2018.1" cy="1440.2" r="3.5"/>
<circle cx="2021.3" cy="1440.2" r="3.5"/>
<circle cx="2024.5" cy="1440.3" r="3.5"/>
<circle cx="2027.6" cy="1440.3" r="3.5"/>
<circle cx="2030.8" cy="1440.3" r="3.5"/>
<circle cx="2034.0" cy="1440.3" r="3.5"/>
</g>
<g transform="scale(1 1.09)"><path d="M382.0 229.4C382.2 237.0 382.6 257.0 383.0 275.2C383.4 293.4 384.0 323.2 384.5 338.5C385.0 353.8 385.6 359.6 386.0 367.0C386.4 374.3 386.6 376.1 387.0 382.6C387.4 389.0 387.9 395.9 388.4 405.5C388.8 415.1 389.1 429.3 389.7 440.4C390.3 451.5 391.2 463.0 392.0 472.2C392.8 481.4 393.5 486.7 394.3 495.6C395.1 504.4 395.8 514.3 396.6 525.3C397.4 536.3 398.1 551.6 398.9 561.5C399.7 571.4 400.3 575.6 401.3 584.8C402.3 594.0 403.4 606.0 404.7 616.6C406.0 627.2 407.4 639.1 409.0 648.5C410.6 657.9 412.2 663.4 414.0 672.9C415.8 682.5 417.5 695.1 419.5 705.9C421.5 716.7 423.8 728.4 426.0 737.6C428.2 746.8 430.1 752.4 433.0 761.0C435.9 769.6 439.9 781.9 443.1 789.0C446.3 796.1 447.9 797.5 452.4 803.9C456.8 810.2 462.9 819.6 469.8 827.2C476.8 834.9 484.3 841.4 494.1 849.5C503.9 857.7 517.0 868.8 528.8 876.1C540.6 883.3 554.5 888.8 564.7 893.0C574.9 897.3 582.2 897.3 590.1 901.6C598.0 905.8 606.5 912.2 612.1 918.5C617.7 924.9 620.6 932.4 623.7 939.8C626.8 947.2 628.7 955.3 630.6 963.1C632.5 970.9 633.4 977.3 635.3 986.5C637.2 995.7 640.1 1007.4 642.2 1018.3C644.3 1029.3 646.5 1042.7 648.0 1052.3C649.5 1061.9 650.1 1066.5 651.5 1075.7C652.9 1084.9 654.4 1096.9 656.1 1107.5C657.8 1118.1 660.2 1129.5 661.9 1139.4C663.6 1149.4 664.3 1156.6 666.5 1167.0C668.7 1177.4 671.4 1190.7 675.0 1201.8C678.6 1213.0 683.3 1225.1 688.0 1233.9C692.7 1242.8 696.8 1249.5 703.0 1255.0C709.2 1260.6 718.5 1264.0 725.0 1267.0C731.5 1270.0 736.2 1271.3 742.0 1272.9C747.8 1274.5 752.5 1275.2 760.0 1276.6C767.5 1278.0 777.2 1279.6 787.0 1281.2C796.8 1282.8 806.7 1284.7 818.9 1286.2C831.1 1287.8 843.1 1288.9 860.0 1290.4C876.9 1291.8 896.7 1293.4 920.0 1295.0C943.3 1296.5 978.3 1298.5 1000.0 1299.5C1021.7 1300.6 1025.0 1300.6 1050.0 1301.4C1075.0 1302.1 1108.3 1303.1 1150.0 1304.1C1191.7 1305.1 1241.7 1306.1 1300.0 1307.3C1358.3 1308.6 1416.7 1310.4 1500.0 1311.5C1583.3 1312.6 1710.5 1313.4 1800.0 1313.9C1889.5 1314.5 1997.5 1314.7 2037.0 1314.9" stroke="#7c7c7c" stroke-width="5.6" stroke-dasharray="28.5 17.4 8 16.5 8 18.3" stroke-dashoffset="6.8"/></g>
</g>
<g class="ax" stroke-width="5.8" stroke-linecap="butt">
<path d="M353 124.5 H2040.1"/>
<path d="M353 1457.7 H2040.1"/>
<path d="M381.3 124.5 V1457.7"/>
<path d="M2037.2 124.5 V1485.5"/>
<path d="M353 1291.0 H381.3"/>
<path d="M353 1124.4 H381.3"/>
<path d="M353 957.8 H381.3"/>
<path d="M353 791.1 H381.3"/>
<path d="M353 624.5 H381.3"/>
<path d="M353 457.8 H381.3"/>
<path d="M353 291.2 H381.3"/>
<path d="M366.5 1374.4 H381.3"/>
<path d="M366.5 1207.7 H381.3"/>
<path d="M366.5 1041.1 H381.3"/>
<path d="M366.5 874.4 H381.3"/>
<path d="M366.5 707.8 H381.3"/>
<path d="M366.5 541.1 H381.3"/>
<path d="M366.5 374.5 H381.3"/>
<path d="M366.5 207.8 H381.3"/>
<path d="M445.0 1457.7 V1485.5"/>
<path d="M763.4 1457.7 V1485.5"/>
<path d="M1081.9 1457.7 V1485.5"/>
<path d="M1400.3 1457.7 V1485.5"/>
<path d="M1718.8 1457.7 V1485.5"/>
<path d="M604.2 1457.7 V1471"/>
<path d="M922.7 1457.7 V1471"/>
<path d="M1241.1 1457.7 V1471"/>
<path d="M1559.5 1457.7 V1471"/>
<path d="M1878.0 1457.7 V1471"/>
</g>
<text class="tk" text-anchor="end" x="335" y="1475.2">0,0</text>
<text class="tk" text-anchor="end" x="335" y="1308.5">0,5</text>
<text class="tk" text-anchor="end" x="335" y="1141.9">1,0</text>
<text class="tk" text-anchor="end" x="335" y="975.2">1,5</text>
<text class="tk" text-anchor="end" x="335" y="808.6">2,0</text>
<text class="tk" text-anchor="end" x="335" y="642.0">2,5</text>
<text class="tk" text-anchor="end" x="335" y="475.3">3,0</text>
<text class="tk" text-anchor="end" x="335" y="308.7">3,5</text>
<text class="tk" text-anchor="end" x="335" y="142.0">4,0</text>
<text class="tk" text-anchor="middle" x="444.0" y="1551.8">300</text>
<text class="tk" text-anchor="middle" x="762.4" y="1551.8">400</text>
<text class="tk" text-anchor="middle" x="1080.9" y="1551.8">500</text>
<text class="tk" text-anchor="middle" x="1399.3" y="1551.8">600</text>
<text class="tk" text-anchor="middle" x="1717.8" y="1551.8">700</text>
<text class="tk" text-anchor="middle" x="2036.2" y="1551.8">800</text>
<text text-anchor="middle" transform="translate(167 763.5) rotate(-90)" font-size="64.4">Absorbance (a.u.)</text>
<g fill="none">
<path d="M1438 232.5 H1586" stroke="#7c7c7c" stroke-width="4.8"/>
<path d="M1438 311 H1590" stroke="#7c7c7c" stroke-width="5.0" stroke-dasharray="28.5 17.4 8 16.5 8 18.3"/>
<path d="M1438 411 H1586" stroke="#111" stroke-width="6.0"/>
<path d="M1438 488.7 H1590" stroke="#111" stroke-width="6.2" stroke-dasharray="28.5 17.4 8 16.5 8 18.3"/>
<circle cx="1512" cy="488.7" r="3.5" stroke="#a2a2a2" stroke-width="2.0" fill="#fff"/>
</g>
<text class="lg" x="1599" y="253">ZnO-st</text>
<text class="lg" x="1599" y="331.6">ZnO-st-NH<tspan class="sub" dy="24.5">2</tspan></text>
<text class="lg" x="1599" y="429.8">ZnO-mw</text>
<text class="lg" x="1599" y="509.4">ZnO-mw-NH<tspan class="sub" dy="24.5">2</tspan></text>
</g>
<g id="chart-b">
<text class="b" x="35.2" y="1782.5" font-size="73" fill="#0a0a0a"><tspan>(</tspan><tspan font-size="80" dx="2.3" dy="5.5">b</tspan><tspan font-size="73" dx="7.5" dy="-5.5">)</tspan></text>
<clipPath id="cb"><rect x="375.4" y="1827.3" width="1649.2" height="1332.7"/></clipPath>
<g clip-path="url(#cb)" fill="none" stroke-linecap="butt" stroke-linejoin="round">
<path d="M376.0 3152.0C413.3 3151.9 529.3 3151.8 600.0 3151.5C670.7 3151.2 740.2 3151.1 800.0 3150.5C859.8 3149.9 917.3 3149.5 958.6 3147.8C999.9 3146.1 1023.1 3143.1 1047.9 3140.4C1072.7 3137.7 1090.4 3134.7 1107.4 3131.4C1124.4 3128.1 1136.3 3125.4 1150.0 3120.5C1163.7 3115.6 1176.5 3110.2 1189.7 3102.0C1202.9 3093.8 1217.8 3082.2 1229.4 3071.0C1241.0 3059.8 1249.8 3047.6 1259.1 3035.0C1268.3 3022.4 1276.6 3008.8 1284.9 2995.6C1293.2 2982.4 1300.4 2971.8 1308.7 2956.0C1317.0 2940.2 1325.9 2921.9 1334.6 2900.7C1343.3 2879.5 1352.8 2856.8 1361.0 2828.8C1369.2 2800.9 1376.4 2764.9 1384.0 2733.0C1391.6 2701.1 1399.5 2668.6 1406.5 2637.3C1413.5 2606.0 1420.3 2574.6 1426.0 2545.0C1431.7 2515.4 1435.8 2487.9 1440.5 2460.0C1445.2 2432.1 1450.1 2399.4 1454.0 2377.4C1457.9 2355.4 1460.8 2344.6 1463.9 2328.1C1467.0 2311.6 1469.6 2295.1 1472.5 2278.7C1475.4 2262.2 1478.5 2245.8 1481.2 2229.4C1483.9 2213.0 1485.9 2196.4 1488.6 2180.0C1491.3 2163.6 1494.5 2147.1 1497.2 2130.7C1499.9 2114.3 1502.1 2097.8 1504.6 2081.4C1507.1 2065.0 1509.3 2048.4 1512.0 2032.0C1514.7 2015.5 1517.5 1999.1 1520.6 1982.7C1523.7 1966.3 1527.2 1949.9 1530.5 1933.4C1533.8 1917.0 1537.1 1901.5 1540.4 1884.0C1543.7 1866.5 1548.4 1838.8 1550.2 1828.5C1552.0 1818.2 1550.9 1823.1 1551.0 1822.0" stroke="#7c7c7c" stroke-width="5.199999999999999"/>
<path d="M376.0 3153.5C430.0 3153.4 612.7 3153.3 700.0 3153.0C787.3 3152.7 842.0 3152.4 900.0 3151.5C958.0 3150.6 1013.3 3149.2 1047.9 3147.8C1082.5 3146.4 1090.4 3145.0 1107.4 3143.3C1124.4 3141.6 1136.3 3139.9 1150.0 3137.5C1163.7 3135.1 1176.5 3132.6 1189.7 3128.6C1202.9 3124.6 1216.2 3120.4 1229.4 3113.5C1242.6 3106.6 1257.4 3095.6 1269.0 3086.9C1280.6 3078.2 1288.9 3071.0 1298.8 3061.1C1308.7 3051.2 1320.3 3037.7 1328.6 3027.4C1336.9 3017.2 1341.8 3010.2 1348.4 2999.6C1355.0 2989.0 1361.8 2976.4 1368.3 2963.9C1374.8 2951.4 1379.3 2940.7 1387.3 2924.6C1395.2 2908.5 1406.4 2887.0 1416.0 2867.1C1425.6 2847.2 1435.2 2827.2 1444.8 2804.9C1454.4 2782.6 1464.7 2754.6 1473.5 2733.0C1482.3 2711.4 1489.4 2695.5 1497.4 2675.6C1505.4 2655.7 1512.6 2633.3 1521.4 2613.4C1530.2 2593.5 1538.9 2575.1 1550.1 2555.9C1561.3 2536.7 1576.1 2517.1 1588.4 2498.4C1600.7 2479.7 1612.0 2458.6 1623.8 2443.5C1635.6 2428.4 1646.6 2418.6 1659.5 2407.7C1672.4 2396.8 1685.3 2387.4 1701.2 2378.0C1717.1 2368.6 1737.0 2358.6 1754.8 2351.2C1772.6 2343.8 1790.4 2338.3 1808.3 2333.3C1826.2 2328.3 1844.5 2325.1 1861.9 2321.4C1879.3 2317.7 1897.6 2314.0 1912.5 2311.0C1927.4 2308.0 1938.8 2306.6 1951.2 2303.6C1963.6 2300.6 1974.8 2295.9 1986.9 2293.2C1999.0 2290.5 2017.8 2288.2 2024.0 2287.2" stroke="#111" stroke-width="5.8"/>
<g transform="scale(1 1.09)"><path d="M376.0 2889.0C413.3 2888.8 532.7 2888.5 600.0 2888.1C667.3 2887.7 725.2 2887.8 780.0 2886.5C834.8 2885.3 886.6 2882.8 928.8 2880.6C971.0 2878.3 1003.2 2875.7 1033.0 2872.8C1062.8 2870.0 1087.9 2866.7 1107.4 2863.3C1126.9 2860.0 1137.6 2856.6 1150.0 2852.8C1162.4 2848.9 1170.8 2846.4 1181.7 2840.2C1192.6 2834.0 1204.6 2824.8 1215.5 2815.6C1226.4 2806.3 1238.9 2793.8 1247.2 2784.7C1255.5 2775.6 1258.5 2770.4 1265.1 2761.0C1271.7 2751.6 1281.6 2736.1 1286.9 2728.3C1292.2 2720.4 1290.5 2726.3 1296.8 2713.7C1303.1 2701.0 1316.3 2672.0 1325.0 2652.3C1333.7 2632.6 1341.8 2614.3 1349.0 2595.2C1356.2 2576.2 1361.7 2557.2 1368.1 2538.2C1374.5 2519.1 1380.9 2500.8 1387.3 2481.0C1393.7 2461.2 1400.1 2440.0 1406.5 2419.5C1412.9 2399.1 1419.2 2378.6 1425.6 2358.1C1432.0 2337.6 1438.4 2317.0 1444.8 2296.5C1451.2 2276.0 1459.1 2250.5 1463.9 2235.0C1468.7 2219.6 1470.4 2214.9 1473.7 2203.7C1477.0 2192.4 1480.7 2177.8 1483.6 2167.6C1486.5 2157.4 1488.1 2151.7 1491.0 2142.7C1493.9 2133.6 1497.2 2124.5 1500.9 2113.2C1504.6 2101.9 1509.9 2085.3 1513.2 2074.8C1516.5 2064.2 1517.3 2060.1 1520.6 2049.9C1523.9 2039.7 1526.4 2028.4 1533.0 2013.7C1539.6 1998.9 1552.7 1975.2 1560.1 1961.6C1567.5 1948.0 1570.8 1943.0 1577.4 1932.1C1584.0 1921.2 1593.4 1905.8 1599.6 1896.0C1605.8 1886.2 1607.8 1882.4 1614.4 1873.3C1621.0 1864.3 1630.0 1851.5 1639.0 1841.7C1648.0 1831.8 1658.4 1821.5 1668.1 1814.2C1677.8 1806.9 1685.7 1803.1 1696.9 1797.8C1708.1 1792.5 1720.9 1787.5 1735.2 1782.4C1749.5 1777.2 1767.0 1771.0 1783.0 1767.0C1799.0 1763.0 1815.0 1761.2 1831.0 1758.3C1847.0 1755.3 1862.8 1752.4 1878.8 1749.4C1894.8 1746.5 1910.7 1743.9 1926.7 1740.6C1942.7 1737.3 1958.4 1733.3 1974.6 1729.6C1990.8 1726.0 2015.8 1720.5 2024.0 1718.7" stroke="#111" stroke-width="5.7" stroke-dasharray="28.5 17.4 8 16.5 8 18.3" stroke-dashoffset="34"/></g>
<g transform="scale(1 1.09)"><path d="M376.0 2890.8C430.0 2890.7 596.0 2891.1 700.0 2889.9C804.0 2888.7 925.0 2885.6 1000.0 2883.5C1075.0 2881.3 1115.7 2879.0 1150.0 2877.1C1184.3 2875.2 1192.0 2873.7 1205.6 2872.1C1219.1 2870.5 1221.4 2869.3 1231.3 2867.5C1241.2 2865.7 1253.2 2863.8 1265.1 2861.2C1277.0 2858.6 1292.2 2855.1 1302.8 2852.0C1313.4 2849.0 1318.3 2847.2 1328.6 2842.9C1338.8 2838.7 1352.4 2832.8 1364.3 2826.6C1376.2 2820.4 1389.4 2812.6 1400.0 2805.6C1410.6 2798.6 1419.5 2791.2 1427.8 2784.7C1436.1 2778.2 1440.8 2776.5 1450.0 2766.5C1459.2 2756.5 1469.5 2739.4 1483.0 2724.8C1496.5 2710.1 1515.0 2693.7 1531.0 2678.7C1547.0 2663.7 1562.8 2649.4 1578.8 2634.8C1594.8 2620.1 1610.7 2604.0 1626.7 2590.8C1642.7 2577.6 1658.6 2566.7 1674.6 2555.7C1690.6 2544.7 1706.5 2533.7 1722.5 2525.0C1738.5 2516.2 1753.5 2510.4 1770.4 2503.0C1787.3 2495.7 1802.4 2488.4 1824.0 2481.0C1845.6 2473.6 1877.3 2464.6 1900.0 2458.7C1922.7 2452.9 1939.3 2449.7 1960.0 2445.9C1980.7 2442.0 2013.3 2437.5 2024.0 2435.8" stroke="#7c7c7c" stroke-width="5.2" stroke-dasharray="28.5 17.4 8 16.5 8 18.3" stroke-dashoffset="90.5"/></g>
</g>
<g class="ax" stroke-width="5.8" stroke-linecap="butt">
<path d="M348 1827.3 H2027.5"/>
<path d="M348 3157.0 H2027.5"/>
<path d="M375.4 1827.3 V3183.2"/>
<path d="M2024.6 1827.3 V3183.2"/>
<path d="M348 2967.0 H375.4"/>
<path d="M348 2777.1 H375.4"/>
<path d="M348 2587.1 H375.4"/>
<path d="M348 2397.2 H375.4"/>
<path d="M348 2207.2 H375.4"/>
<path d="M348 2017.3 H375.4"/>
<path d="M360.5 3062.0 H375.4"/>
<path d="M360.5 2872.1 H375.4"/>
<path d="M360.5 2682.1 H375.4"/>
<path d="M360.5 2492.2 H375.4"/>
<path d="M360.5 2302.2 H375.4"/>
<path d="M360.5 2112.2 H375.4"/>
<path d="M360.5 1922.3 H375.4"/>
<path d="M650.3 3157.0 V3183.2"/>
<path d="M925.1 3157.0 V3183.2"/>
<path d="M1200.0 3157.0 V3183.2"/>
<path d="M1474.9 3157.0 V3183.2"/>
<path d="M1749.7 3157.0 V3183.2"/>
<path d="M512.8 3157.0 V3172"/>
<path d="M787.7 3157.0 V3172"/>
<path d="M1062.6 3157.0 V3172"/>
<path d="M1337.4 3157.0 V3172"/>
<path d="M1612.3 3157.0 V3172"/>
<path d="M1887.2 3157.0 V3172"/>
</g>
<g fill="none" stroke="#bcbcbc" stroke-width="4.6" stroke-linecap="butt">
<path d="M1254.5 3180.2 L1587.2 2024.6"/>
<path d="M1273.0 3182.0 L1590.8 2476.9"/>
<path d="M1301.8 3176.2 L1739.2 2692.4"/>
</g>
<text class="tk" text-anchor="end" x="330" y="3174.0">0</text>
<text class="tk" text-anchor="end" x="330" y="2984.0">10</text>
<text class="tk" text-anchor="end" x="330" y="2794.1">20</text>
<text class="tk" text-anchor="end" x="330" y="2604.1">30</text>
<text class="tk" text-anchor="end" x="330" y="2414.2">40</text>
<text class="tk" text-anchor="end" x="330" y="2224.2">50</text>
<text class="tk" text-anchor="end" x="330" y="2034.3">60</text>
<text class="tk" text-anchor="end" x="330" y="1844.3">70</text>
<text class="tk" text-anchor="middle" x="374.4" y="3251">3,0</text>
<text class="tk" text-anchor="middle" x="649.3" y="3251">3,1</text>
<text class="tk" text-anchor="middle" x="924.1" y="3251">3,2</text>
<text class="tk" text-anchor="middle" x="1199.0" y="3251">3,3</text>
<text class="tk" text-anchor="middle" x="1473.9" y="3251">3,4</text>
<text class="tk" text-anchor="middle" x="1748.7" y="3251">3,5</text>
<text class="tk" text-anchor="middle" x="2023.6" y="3251">3,6</text>
<text class="b" text-anchor="middle" transform="translate(164 2522) rotate(-90)" font-size="63" textLength="409" lengthAdjust="spacingAndGlyphs">[F(R)]^2 (a.u.)</text>
<text class="b" text-anchor="middle" x="1200" y="3359.5" font-size="60.5" textLength="203" lengthAdjust="spacingAndGlyphs">h<tspan font-weight="normal" font-family="'Liberation Serif',serif">&#957;</tspan> (eV)</text>
<text x="568.5" y="3065" font-size="66" textLength="492" fill="#222" lengthAdjust="spacingAndGlyphs">E<tspan font-size="50">g</tspan> = 3.32-3.34 eV</text>
<g fill="none">
<path d="M438.5 1894.6 H586" stroke="#7c7c7c" stroke-width="4.8"/>
<path d="M438.5 1972.4 H590" stroke="#7c7c7c" stroke-width="5.0" stroke-dasharray="28.5 17.4 8 16.5 8 18.3"/>
<path d="M438.5 2149.5 H586" stroke="#111" stroke-width="6.0"/>
<path d="M438.5 2229.1 H590" stroke="#111" stroke-width="6.2" stroke-dasharray="28.5 17.4 8 16.5 8 18.3"/>
</g>
<text class="lg" x="599" y="1915.3">ZnO-st</text>
<text class="lg" x="599" y="1993.7">ZnO-st-NH<tspan class="sub" dy="24.5">2</tspan></text>
<text class="lg" x="599" y="2170">ZnO-mw</text>
<text class="lg" x="599" y="2247.6">ZnO-mw-NH<tspan class="sub" dy="24.5">2</tspan></text>
</g>
</g></svg>
</body></html>
